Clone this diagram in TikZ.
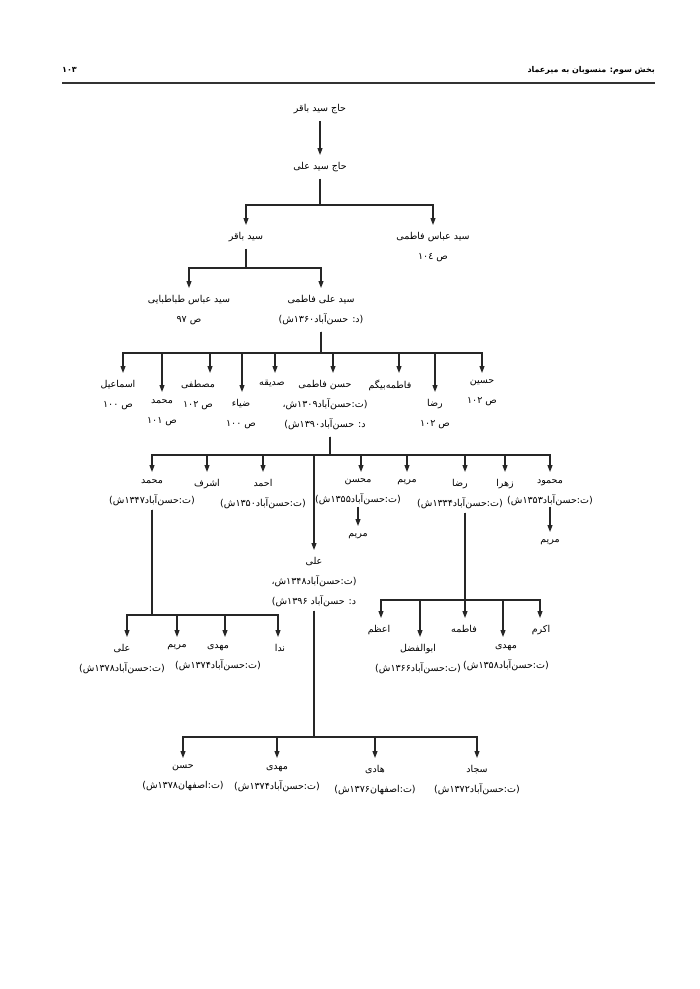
\documentclass[tikz,border=0pt]{standalone}
\usepackage{fontspec}
\usetikzlibrary{arrows.meta}
\newfontfamily\arabicfont[Script=Arabic]{DejaVu Sans}
\TeXXeTstate=1
\newcommand{\fa}[1]{\beginR #1\endR}
\begin{document}
\begin{tikzpicture}[x=1pt,y=-1pt,
  lbl/.style={font=\arabicfont\fontsize{9.5}{20}\selectfont, align=center, inner xsep=1.5pt, inner ysep=7pt, anchor=north},
  hdr/.style={font=\arabicfont\bfseries\fontsize{8}{12}\selectfont, inner sep=0pt},
  arr/.style={line width=1.1pt, draw=black!85, -{Triangle[length=7pt,width=5pt]}},
  ln/.style={line width=1.1pt}]
\useasboundingbox (0,0) rectangle (700,989);
% header
\node[hdr, anchor=east] (hd) at (655,70) {\fa{بخش سوم: منسوبان به میرعماد}};
\node[hdr, anchor=west] (pg) at (62,70) {\fa{۱۰۳}};
\draw[line width=1.4pt, black!80] (62,83) -- (655,83);
% bars
\coordinate (barA) at (0,205);
\coordinate (barB) at (0,268);
\coordinate (barC) at (0,353);
\coordinate (barD) at (0,455);
\coordinate (barE) at (0,615);
\coordinate (barF) at (0,600);
\coordinate (barG) at (0,737);
% nodes
\node[lbl] (n1) at (320,97) {\fa{حاج سید باقر}};
\node[lbl] (n2) at (320,155) {\fa{حاج سید علی}};
\node[lbl] (n3) at (246,225) {\fa{سید باقر}};
\node[lbl] (n4) at (433,225) {\fa{سید عباس فاطمی}\\\fa{ص ١٠٤}};
\node[lbl] (n5) at (189,288) {\fa{سید عباس طباطبایی}\\\fa{ص ۹۷}};
\node[lbl] (n6) at (321,288) {\fa{سید علی فاطمی}\\\fa{(د: حسن‌آباد۱۳۶۰ش)}};
\node[lbl] (c1) at (118,373) {\fa{اسماعیل}\\\fa{ص ۱۰۰}};
\node[lbl] (c2) at (162,392) {\fa{محمد}\\\fa{ص ۱۰۱}};
\node[lbl] (c3) at (198,373) {\fa{مصطفی}\\\fa{ص ۱۰۲}};
\node[lbl] (c4) at (241,392) {\fa{ضیاء}\\\fa{ص ۱۰۰}};
\node[lbl] (c5) at (272,373) {\fa{صدیقه}};
\node[lbl] (c6) at (325,373) {\fa{حسن فاطمی}\\\fa{(ت:حسن‌آباد۱۳۰۹ش،}\\\fa{د: حسن‌آباد۱۳۹۰ش)}};
\node[lbl] (c7) at (390,373) {\fa{فاطمه‌بیگم}};
\node[lbl] (c8) at (435,392) {\fa{رضا}\\\fa{ص ۱۰۲}};
\node[lbl] (c9) at (482,373) {\fa{حسین}\\\fa{ص ۱۰۲}};
\node[lbl] (d1) at (152,472) {\fa{محمد}\\\fa{(ت:حسن‌آباد۱۳۴۷ش)}};
\node[lbl] (d2) at (207,472) {\fa{اشرف}};
\node[lbl] (d3) at (263,472) {\fa{احمد}\\\fa{(ت:حسن‌آباد۱۳۵۰ش)}};
\node[lbl] (d4) at (314,550) {\fa{علی}\\\fa{(ت:حسن‌آباد۱۳۴۸ش،}\\\fa{د: حسن‌آباد ۱۳۹۶ش)}};
\node[lbl] (d5) at (358,472) {\fa{محسن}\\\fa{(ت:حسن‌آباد۱۳۵۵ش)}};
\node[lbl] (d6) at (407,472) {\fa{مریم}};
\node[lbl] (d7) at (460,472) {\fa{رضا}\\\fa{(ت:حسن‌آباد۱۳۳۴ش)}};
\node[lbl] (d8) at (505,472) {\fa{زهرا}};
\node[lbl] (d9) at (550,472) {\fa{محمود}\\\fa{(ت:حسن‌آباد۱۳۵۳ش)}};
\node[lbl] (e1) at (358,526) {\fa{مریم}};
\node[lbl] (e2) at (550,532) {\fa{مریم}};
\node[lbl] (f1) at (122,637) {\fa{علی}\\\fa{(ت:حسن‌آباد۱۳۷۸ش)}};
\node[lbl] (f2) at (177,637) {\fa{مریم}};
\node[lbl] (f3) at (218,637) {\fa{مهدی}\\\fa{(ت:حسن‌آباد۱۳۷۴ش)}};
\node[lbl] (f4) at (280,637) {\fa{ندا}};
\node[lbl] (g1) at (379,618) {\fa{اعظم}};
\node[lbl] (g2) at (418,637) {\fa{ابوالفضل}\\\fa{(ت:حسن‌آباد۱۳۶۶ش)}};
\node[lbl] (g3) at (464,618) {\fa{فاطمه}};
\node[lbl] (g4) at (506,637) {\fa{مهدی}\\\fa{(ت:حسن‌آباد۱۳۵۸ش)}};
\node[lbl] (g5) at (541,618) {\fa{اکرم}};
\node[lbl] (h1) at (183,758) {\fa{حسن}\\\fa{(ت:اصفهان۱۳۷۸ش)}};
\node[lbl] (h2) at (277,758) {\fa{مهدی}\\\fa{(ت:حسن‌آباد۱۳۷۴ش)}};
\node[lbl] (h3) at (375,758) {\fa{هادی}\\\fa{(ت:اصفهان۱۳۷۶ش)}};
\node[lbl] (h4) at (477,758) {\fa{سجاد}\\\fa{(ت:حسن‌آباد۱۳۷۲ش)}};
% connectors
\draw[arr] (n1) -- (n2);
\foreach \c in {n3,n4} \draw[arr] (n2.south) -- (n2.south |- barA) -| (\c.north);
\foreach \c in {n5,n6} \draw[arr] (n3.south) -- (n3.south |- barB) -| (\c.north);
\foreach \c/\s in {c1/5,c2/0,c3/12,c4/1,c5/3,c6/8,c7/9,c8/0,c9/0}
  \draw[arr] (n6.south) -- (n6.south |- barC) -| ([xshift=\s pt]\c.north);
\foreach \c/\s in {d1/0,d2/0,d3/0,d4/0,d5/3,d6/0,d7/5,d8/0,d9/0}
  \draw[arr] ([xshift=5pt]c6.south) -- ([xshift=5pt]c6.south |- barD) -| ([xshift=\s pt]\c.north);
\draw[arr] ([yshift=6pt]d5.south) -- (e1);
\draw[arr] ([yshift=6pt]d9.south) -- (e2);
\foreach \c/\s in {f1/5,f2/0,f3/7,f4/-2}
  \draw[arr] ([yshift=3pt]d1.south) -- (d1.south |- barE) -| ([xshift=\s pt]\c.north);
\foreach \c/\s in {g1/2,g2/2,g3/1,g4/-3,g5/-1}
  \draw[arr] ([xshift=5pt,yshift=3pt]d7.south) -- ([xshift=5pt]d7.south |- barF) -| ([xshift=\s pt]\c.north);
\foreach \c in {h1,h2,h3,h4}
  \draw[arr] ([yshift=3pt]d4.south) -- (d4.south |- barG) -| (\c.north);
\end{tikzpicture}
\end{document}
